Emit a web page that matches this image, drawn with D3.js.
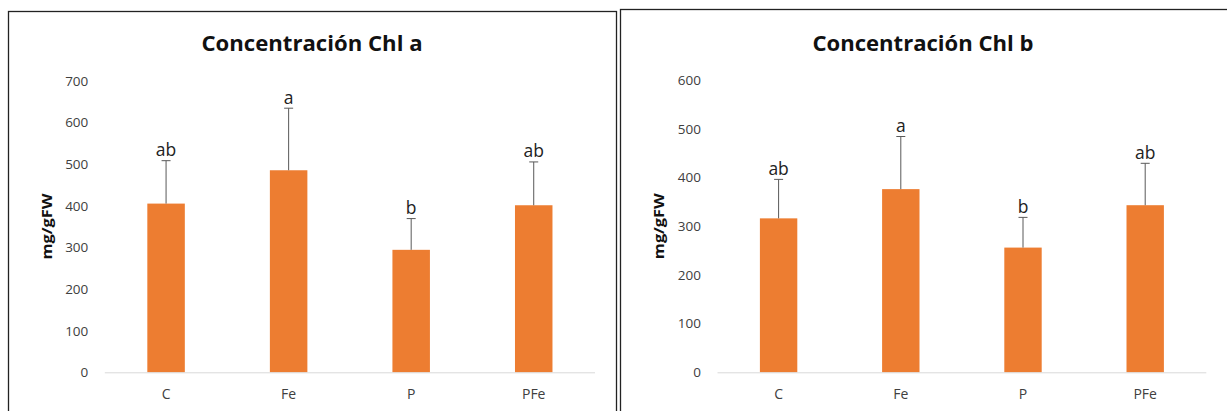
<!DOCTYPE html>
<html>
<head>
<meta charset="utf-8">
<script src="https://cdn.jsdelivr.net/npm/d3@7"></script>
<style>
  body { margin: 0; background: #fff; }
  svg { display: block; font-family: "Open Sans", sans-serif; }
</style>
</head>
<body>
<svg width="1227" height="411"></svg>
<script>
const categories = ['C', 'Fe', 'P', 'PFe'];
const letters = ['ab', 'a', 'b', 'ab'];

// Chl a
const chlA = [405, 485, 294, 401];
const chlAErr = [103, 149, 75, 104];
const chlATicks = [0, 100, 200, 300, 400, 500, 600, 700];

// Chl b
const chlB = [316, 376, 256, 343];
const chlBErr = [80, 108, 62, 86];
const chlBTicks = [0, 100, 200, 300, 400, 500, 600];

const svg = d3.select('svg');
svg.append('rect').attr('width', 1227).attr('height', 411).attr('fill', '#fff');

// chart frames (right one runs off the page)
svg.append('rect')
  .attr('x', 8.5).attr('y', 11.5).attr('width', 608).attr('height', 420)
  .attr('fill', 'none').attr('stroke', '#222').attr('stroke-width', 1.3);
svg.append('rect')
  .attr('x', 620.5).attr('y', 9.5).attr('width', 640).attr('height', 420)
  .attr('fill', 'none').attr('stroke', '#222').attr('stroke-width', 1.3);

function drawChart(opt) {
  const g = svg.append('g');

  const x = d3.scaleBand()
    .domain(categories)
    .range([opt.left, opt.right]);

  const y = d3.scaleLinear()
    .domain([0, d3.max(opt.ticks)])
    .range([opt.bottom, opt.top]);

  const barW = x.bandwidth() * 0.306;
  const cx = i => x(categories[i]) + x.bandwidth() / 2;

  // title
  g.append('text')
    .attr('x', opt.titleX).attr('y', 50.5)
    .attr('text-anchor', 'middle')
    .attr('textLength', 221)
    .attr('lengthAdjust', 'spacingAndGlyphs')
    .style('font-size', '20.5px')
    .style('font-weight', 'bold')
    .style('fill', '#111')
    .text(opt.title);

  // y ticks (no axis line, like excel)
  g.selectAll('.ytick')
    .data(opt.ticks)
    .enter()
    .append('text')
      .attr('x', opt.left - 16.5)
      .attr('y', d => y(d))
      .attr('dy', '0.36em')
      .attr('text-anchor', 'end')
      .style('font-size', '13.5px')
      .style('fill', '#404040')
      .text(d => d);

  // y title
  g.append('text')
    .attr('transform', `translate(${opt.yTitleX},${(opt.top + opt.bottom) / 2})`
      + ' rotate(-90)')
    .attr('text-anchor', 'middle')
    .attr('dy', '0.35em')
    .attr('textLength', 66)
    .attr('lengthAdjust', 'spacingAndGlyphs')
    .style('font-size', '14px')
    .style('font-weight', 'bold')
    .style('fill', '#111')
    .text('mg/gFW');

  // bars
  g.selectAll('.bar')
    .data(opt.values)
    .enter()
    .append('rect')
      .attr('x', (d, i) => cx(i) - barW / 2)
      .attr('y', d => y(d))
      .attr('width', barW)
      .attr('height', d => y(0) - y(d))
      .style('fill', '#ED7D31');

  // error bars (upper only)
  const err = g.selectAll('.err')
    .data(opt.values)
    .enter()
    .append('g');
  err.append('line')
    .attr('x1', (d, i) => cx(i))
    .attr('x2', (d, i) => cx(i))
    .attr('y1', d => y(d))
    .attr('y2', (d, i) => y(d + opt.errs[i]))
    .style('stroke', '#595959').style('stroke-width', 1);
  err.append('line')
    .attr('x1', (d, i) => cx(i) - 4.5)
    .attr('x2', (d, i) => cx(i) + 4.5)
    .attr('y1', (d, i) => y(d + opt.errs[i]))
    .attr('y2', (d, i) => y(d + opt.errs[i]))
    .style('stroke', '#595959').style('stroke-width', 1);

  // significance letters
  g.selectAll('.letter')
    .data(opt.values)
    .enter()
    .append('text')
      .attr('x', (d, i) => cx(i))
      .attr('y', (d, i) => y(d + opt.errs[i]) - 4.5)
      .attr('text-anchor', 'middle')
      .style('font-size', '17.5px')
      .style('fill', '#222')
      .text((d, i) => letters[i]);

  // x axis line
  g.append('line')
    .attr('x1', opt.left).attr('x2', opt.right)
    .attr('y1', y(0) + 0.5).attr('y2', y(0) + 0.5)
    .style('stroke', '#d9d9d9').style('stroke-width', 1);

  // x labels
  g.selectAll('.xlab')
    .data(categories)
    .enter()
    .append('text')
      .attr('x', d => x(d) + x.bandwidth() / 2)
      .attr('y', 394)
      .attr('dy', '0.35em')
      .attr('text-anchor', 'middle')
      .style('font-size', '14px')
      .style('fill', '#404040')
      .text(d => d);
}

drawChart({
  title: 'Concentración Chl a',
  titleX: 312,
  values: chlA,
  errs: chlAErr,
  ticks: chlATicks,
  left: 104.8, right: 595, top: 80.7, bottom: 372.3,
  yTitleX: 47.5
});

drawChart({
  title: 'Concentración Chl b',
  titleX: 923,
  values: chlB,
  errs: chlBErr,
  ticks: chlBTicks,
  left: 717.5, right: 1206.3, top: 80, bottom: 372.3,
  yTitleX: 659
});
</script>
</body>
</html>
